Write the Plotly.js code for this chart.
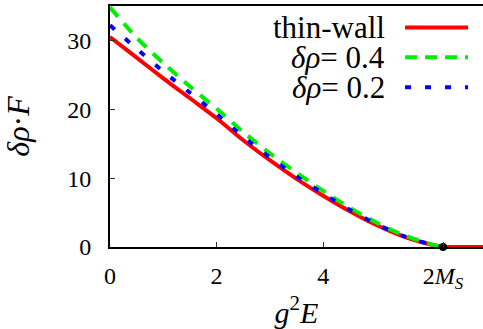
<!DOCTYPE html>
<html>
<head>
<meta charset="utf-8">
<script src="https://cdn.plot.ly/plotly-3.0.1.min.js"></script>
<style>html,body{margin:0;padding:0;background:#fff;}#chart{width:483px;height:329px;}</style>
</head>
<body>
<div id="chart"></div>
<script>
// Data
const xVals     = [0, 0.5, 1, 1.5, 2, 2.5, 3, 3.5, 4, 4.5, 5, 5.5, 6, 6.25];
const thinWall  = [30.5, 27.5, 24.5, 21.6, 18.7, 15.5, 12.6, 9.9, 7.45, 5.2, 3.2, 1.55, 0.4, 0];
const dRho04    = [34.8, 30.4, 26.7, 23.3, 20.1, 16.7, 13.6, 10.8, 8.15, 5.7, 3.55, 1.75, 0.45, 0];
const dRho02    = [32.2, 28.8, 25.5, 22.4, 19.3, 16.0, 13.0, 10.25, 7.75, 5.4, 3.35, 1.63, 0.42, 0];
const tailX     = [6.25, 7];
const tailY     = [0, 0];
const threshX   = [6.25];
const threshY   = [0];
const xTickVals = [0, 2, 4, 6.25];
const xTickText = ['0', '2', '4', '2<i>M</i><sub><i>S</i></sub>'];
const yTickVals = [0, 10, 20, 30];
const legendLabels = ['thin-wall', '<i>δρ</i>= 0.4', '<i>δρ</i>= 0.2'];

const serif = "'Liberation Serif', Times, 'DejaVu Serif', serif";
const red = '#ff0000', green = '#00ee00', blue = '#0000ff';

const traces = [
  {x: xVals, y: thinWall, mode: 'lines', line: {color: red, width: 4, shape: 'spline', smoothing: 0.8}, showlegend: false},
  {x: tailX, y: tailY, mode: 'lines', line: {color: red, width: 4}, showlegend: false},
  {x: xVals, y: dRho04, mode: 'lines', line: {color: green, width: 4, dash: '12px,9px', shape: 'spline', smoothing: 0.8}, showlegend: false},
  {x: xVals, y: dRho02, mode: 'lines', line: {color: blue, width: 4, dash: '6px,14px', shape: 'spline', smoothing: 0.8}, showlegend: false},
  {x: threshX, y: threshY, mode: 'markers', marker: {color: '#000', size: 8}, showlegend: false, cliponaxis: false}
];

const rowsY = [0.911, 0.787, 0.663];
const colors = [red, green, blue];
const dashes = ['solid', '12px,8px', '6px,14px'];
const annotations = legendLabels.map((t, i) => ({
  text: t, xref: 'paper', yref: 'paper', x: 0.743, y: rowsY[i],
  xanchor: 'right', yanchor: 'middle', showarrow: false,
  font: {family: serif, size: 31, color: '#000'}
}));
const shapes = legendLabels.map((t, i) => ({
  type: 'line', xref: 'paper', yref: 'paper', x0: 0.791, x1: 0.960, y0: rowsY[i], y1: rowsY[i],
  line: {color: colors[i], width: 4, dash: dashes[i]}
}));

const layout = {
  width: 483, height: 329,
  margin: {l: 110, r: 0, t: 6, b: 82},
  paper_bgcolor: '#fff', plot_bgcolor: '#fff',
  font: {family: serif, color: '#000'},
  xaxis: {
    range: [0, 7], tickvals: xTickVals, ticktext: xTickText,
    ticks: 'inside', ticklen: 5, tickcolor: '#333', tickwidth: 1,
    showline: true, linecolor: '#000', linewidth: 2, mirror: true,
    showgrid: false, zeroline: false,
    tickfont: {family: serif, size: 24, color: '#000'},
    ticklabelstandoff: 6,
    title: {text: '<i>g</i><sup>2</sup><i>E</i>', font: {family: serif, size: 30, color: '#000'}, standoff: 16}
  },
  yaxis: {
    range: [0, 35], tickvals: yTickVals,
    ticks: 'inside', ticklen: 5, tickcolor: '#333', tickwidth: 1,
    showline: true, linecolor: '#000', linewidth: 2,
    showgrid: false, zeroline: false,
    tickfont: {family: serif, size: 24, color: '#000'},
    ticklabelstandoff: 12,
    title: {text: '<i>δρ</i>·<i>F</i>', font: {family: serif, size: 32, color: '#000'}, standoff: 28}
  },
  annotations: annotations,
  shapes: shapes,
  showlegend: false
};

Plotly.newPlot('chart', traces, layout, {displayModeBar: false, staticPlot: true});
</script>
</body>
</html>
